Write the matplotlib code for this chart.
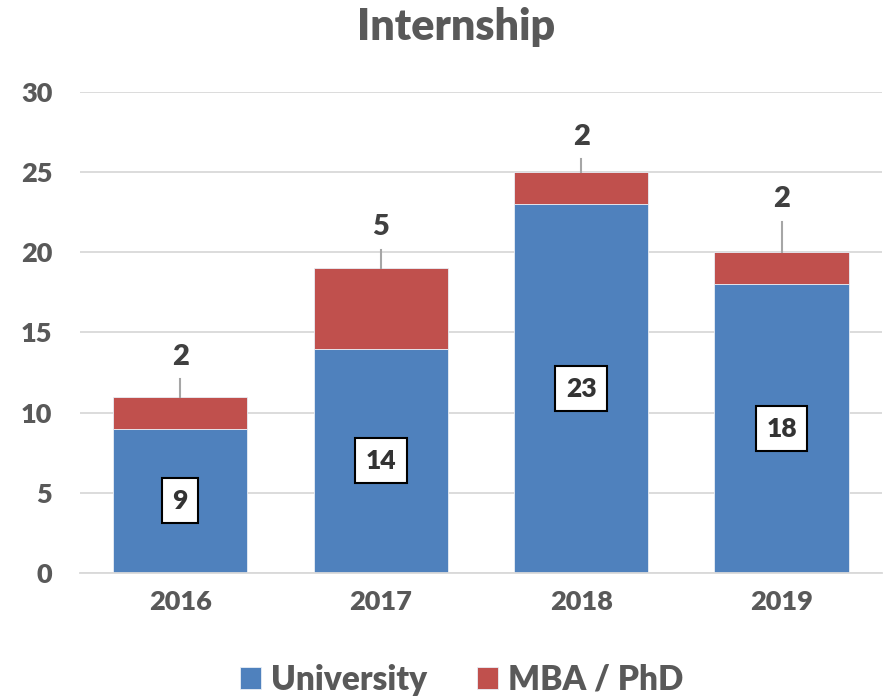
import numpy as np
import matplotlib.pyplot as plt

# Datos
anos = ['2016', '2017', '2018', '2019']
university = [9, 14, 23, 18]
mba_phd = [2, 5, 2, 2]
yticks = [0, 5, 10, 15, 20, 25, 30]

# Posición manual das etiquetas superiores (unidades por riba da barra)
despraz_etiqueta = [2.0, 2.07, 1.7, 2.8]

plt.rcParams['font.family'] = ['Lato', 'DejaVu Sans']
PESO = 'heavy'

AZUL = '#4F81BD'
VERMELLO = '#C0504D'
GRIS = '#595959'

fig = plt.figure(figsize=(8.83, 6.98), dpi=100)
ax = fig.add_axes([0.0906, 0.1791, 0.908, 0.6891])

x = np.arange(len(anos))
uni = np.array(university)
mba = np.array(mba_phd)
total = uni + mba

ax.bar(x, uni, width=0.67, color=AZUL, edgecolor='#E8EEF6', linewidth=0.6,
       label='University', zorder=2)
ax.bar(x, mba, width=0.67, bottom=uni, color=VERMELLO, edgecolor='#E8EEF6',
       linewidth=0.6, label='MBA / PhD', zorder=2)

# etiquetas interiores (caixa branca)
for xi, v in zip(x, uni):
    ax.text(xi, v / 2, str(v), ha='center', va='center', fontsize=19,
            fontweight=PESO, color='#333333', zorder=4,
            bbox=dict(boxstyle='square,pad=0.4', fc='white', ec='black', lw=1.5))

# etiquetas superiores con liña guía
for xi, t, v, d in zip(x, total, mba, despraz_etiqueta):
    ax.plot([xi, xi], [t, t + d - 0.9], color='#A6A6A6', lw=1.5, zorder=3)
    ax.text(xi, t + d, str(v), ha='center', va='baseline', fontsize=21,
            fontweight=PESO, color='#404040')

ax.set_xlim(-0.5, 3.5)
ax.set_ylim(0, 30)
ax.set_yticks(yticks)
ax.set_xticks(x)
ax.set_xticklabels(anos)
ax.tick_params(axis='both', length=0, labelsize=19.5, labelcolor=GRIS)
ax.tick_params(axis='x', pad=12)
ax.tick_params(axis='y', pad=20)
for lab in ax.get_xticklabels() + ax.get_yticklabels():
    lab.set_fontweight(PESO)

ax.grid(axis='y', color='#D9D9D9', lw=1.3, zorder=0)
ax.set_axisbelow(True)
for s in ['top', 'right', 'left']:
    ax.spines[s].set_visible(False)
ax.spines['bottom'].set_color('#D9D9D9')
ax.spines['bottom'].set_linewidth(1.3)

fig.text(0.516, 0.962, 'Internship', ha='center', va='center', fontsize=31,
         fontweight=PESO, color=GRIS)

leg = fig.legend(loc='center', bbox_to_anchor=(0.523, 0.026), ncol=2, frameon=False,
                 fontsize=24, handlelength=0.62, handleheight=0.62,
                 columnspacing=1.5, handletextpad=0.3)
for t in leg.get_texts():
    t.set_color(GRIS)
    t.set_fontweight(PESO)

fig.savefig('out.png', dpi=100)
